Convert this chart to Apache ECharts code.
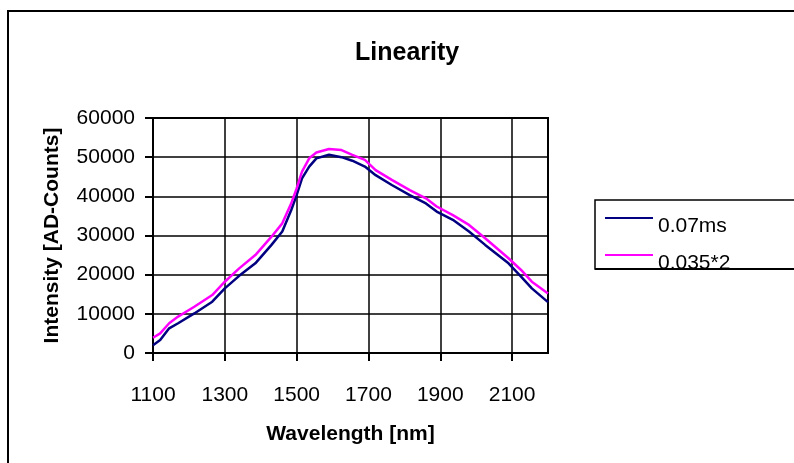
<!DOCTYPE html>
<html style="height: 100%">
<head>
    <meta charset="utf-8">
    <script type="text/javascript" src="https://cdn.jsdelivr.net/npm/echarts@6/dist/echarts.min.js"></script>
</head>
<body style="height: 100%; margin: 0; background: #fff">
<div id="container" style="width: 794px; height: 463px"></div>
<script type="text/javascript">
    // wavelength samples (nm)
    var wavelength = [1100, 1120, 1145, 1170, 1215, 1265, 1300, 1340, 1385, 1430, 1460, 1485, 1500, 1515, 1535, 1555,
        1590, 1625, 1655, 1690, 1720, 1765, 1815, 1860, 1890, 1935, 1980, 2025, 2090, 2125, 2155, 2200];
    // 0.07ms
    var seriesA = [2000, 3300, 6300, 7600, 10100, 13100, 16500, 19700, 22900, 27600, 31000, 36500, 40300, 44600, 47600, 49700,
        50600, 50000, 49100, 47600, 45400, 42900, 40300, 38200, 36100, 34000, 31000, 27600, 22900, 19500, 16500, 13000];
    // 0.035*2
    var seriesB = [3900, 5000, 7600, 9300, 11800, 14800, 18200, 21600, 25000, 29700, 33100, 38200, 42000, 46300, 49700, 51200,
        52100, 51800, 50600, 49300, 46700, 44200, 41600, 39500, 37400, 35200, 32700, 29300, 24200, 21200, 18200, 15200];
    var seriesNames = ['0.07ms', '0.035*2'];
    var xTicks = [1100, 1300, 1500, 1700, 1900, 2100];

    var font = '"Liberation Sans", Arial, sans-serif';

    function pairs(ys) {
        return wavelength.map(function (x, i) { return [x, ys[i]]; });
    }

    var myChart = echarts.init(document.getElementById('container'));
    var option = {
        backgroundColor: '#fff',
        animation: false,
        title: {
            text: 'Linearity',
            left: 355,
            top: 41,
            padding: 0,
            textStyle: {fontFamily: font, fontSize: 25, fontWeight: 'bold', color: '#000'}
        },
        graphic: [
            // outer chart frame
            {type: 'rect', shape: {x: 8, y: 11, width: 800, height: 470}, style: {fill: 'none', stroke: '#000', lineWidth: 2}, z: -1},
            // legend box, bottom edge drawn over the text like the original
            {type: 'rect', shape: {x: 595, y: 200, width: 210, height: 69}, style: {fill: '#fff', stroke: '#000', lineWidth: 1.5}, z: 5},
            {type: 'line', shape: {x1: 595, y1: 269, x2: 800, y2: 269}, style: {stroke: '#000', lineWidth: 2}, z: 20}
        ],
        legend: {
            orient: 'vertical',
            left: 605,
            top: 199,
            padding: 0,
            itemWidth: 48,
            itemHeight: 2,
            itemGap: -1,
            icon: 'rect',
            z: 10,
            formatter: function (name) {
                return '{t|' + name + '}';
            },
            textStyle: {
                fontFamily: font, fontSize: 21, color: '#000',
                rich: {t: {fontFamily: font, fontSize: 21, color: '#000', lineHeight: 21, padding: [17, 0, 0, 0]}}
            },
            data: seriesNames
        },
        grid: {
            left: 153, right: 246, top: 118, bottom: 110,
            show: true, borderColor: '#000', borderWidth: 2, backgroundColor: '#fff'
        },
        xAxis: {
            type: 'value',
            min: 1100, max: 2200,
            name: 'Wavelength [nm]',
            nameLocation: 'middle',
            nameGap: 71,
            nameTextStyle: {fontFamily: font, fontSize: 21, fontWeight: 'bold', color: '#000'},
            axisLine: {onZero: false, lineStyle: {color: '#000', width: 2}},
            axisTick: {customValues: xTicks, length: 8, lineStyle: {color: '#000', width: 2}},
            axisLabel: {
                customValues: xTicks, margin: 32, fontFamily: font, fontSize: 21, color: '#000',
                formatter: function (v) { return String(v); }
            },
            splitLine: {show: true, lineStyle: {color: '#000', width: 1.5}}
        },
        yAxis: {
            type: 'value',
            min: 0, max: 60000, interval: 10000,
            name: 'Intensity [AD-Counts]',
            nameLocation: 'middle',
            nameGap: 90,
            nameTextStyle: {fontFamily: font, fontSize: 21, fontWeight: 'bold', color: '#000'},
            axisLine: {show: true, lineStyle: {color: '#000', width: 2}},
            axisTick: {show: true, length: 8, lineStyle: {color: '#000', width: 2}},
            axisLabel: {
                margin: 18, fontFamily: font, fontSize: 21, color: '#000',
                formatter: function (v) { return String(v); }
            },
            splitLine: {show: true, lineStyle: {color: '#000', width: 1.5}}
        },
        series: [
            {
                name: seriesNames[0], type: 'line', showSymbol: false,
                color: '#000080', lineStyle: {width: 2.5, color: '#000080'},
                data: pairs(seriesA)
            },
            {
                name: seriesNames[1], type: 'line', showSymbol: false,
                color: '#ff00ff', lineStyle: {width: 2.5, color: '#ff00ff'},
                data: pairs(seriesB)
            }
        ]
    };
    myChart.setOption(option);
</script>
</body>
</html>
